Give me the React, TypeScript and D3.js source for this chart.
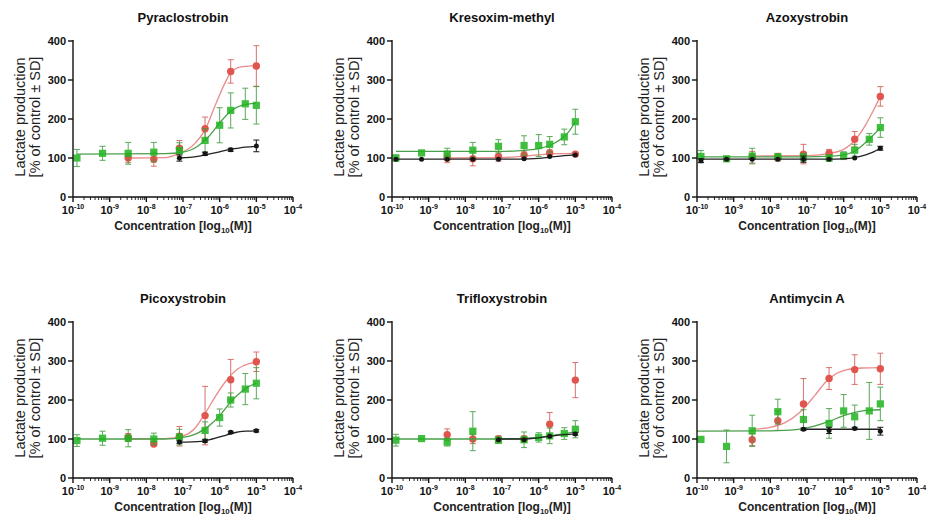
import React, { useEffect } from "react";
import * as d3 from "d3";

// dilution series (M)
const doses = [1.28e-10, 6.4e-10, 3.2e-9, 1.6e-8, 8e-8, 4e-7, 1e-6, 2e-6, 5e-6, 1e-5];
const decades = [-10, -9, -8, -7, -6, -5, -4];
const yTicks = [0, 100, 200, 300, 400];

type N = number | null;
type Knot = [number, number]; // [log10 dose, % of control]

// Pyraclostrobin
const pyraGreen: N[] = [100, 112, 112, 115, 119, 145, 184, 222, 239, 235];
const pyraGreenSd: N[] = [22, 18, 28, 25, 20, 30, 45, 45, 40, 48];
const pyraGreenFit: Knot[] = [[-9.89, 110], [-7.5, 111], [-7, 115], [-6.6, 130], [-6.3, 155], [-6, 190], [-5.7, 220], [-5.4, 235], [-5, 240]];
const pyraRed: N[] = [null, null, 100, 97, 125, 175, null, 322, null, 336];
const pyraRedSd: N[] = [null, null, 12, 18, 20, 30, null, 30, null, 52];
const pyraRedFit: Knot[] = [[-8.5, 100], [-7.5, 101], [-7.1, 112], [-6.7, 135], [-6.4, 172], [-6.1, 240], [-5.7, 318], [-5.45, 333], [-5, 337]];
const pyraBlack: N[] = [null, null, null, null, 100, 111, null, 121, null, 131];
const pyraBlackSd: N[] = [null, null, null, null, 8, 4, null, 4, null, 15];
const pyraBlackFit: Knot[] = [[-7.1, 100], [-6.6, 104], [-6.3, 110], [-6, 116], [-5.7, 122], [-5.3, 128], [-5, 130]];

// Kresoxim-methyl
const kresGreen: N[] = [100, 113, 110, 120, 130, 132, 132, 135, 154, 193];
const kresGreenSd: N[] = [8, 6, 15, 20, 17, 25, 28, 20, 20, 32];
const kresGreenFit: Knot[] = [[-9.89, 117], [-7, 117], [-6.5, 119], [-6, 124], [-5.7, 132], [-5.4, 148], [-5.2, 165], [-5, 193]];
const kresRed: N[] = [null, null, 100, 98, 104, 108, null, 113, null, 110];
const kresRedSd: N[] = [null, null, 12, 18, 12, 10, null, 8, null, 5];
const kresRedFit: Knot[] = [[-8.5, 100], [-7, 101], [-6.5, 104], [-6, 108], [-5.5, 111], [-5, 112]];
const kresBlack: N[] = [97, 97, 97, 97, 97, 98, null, 104, null, 108];
const kresBlackSd: N[] = [2, 2, 2, 2, 2, 2, null, 2, null, 2];
const kresBlackFit: Knot[] = [[-9.89, 97], [-6.5, 97], [-6, 99], [-5.7, 102], [-5.3, 106], [-5, 108]];

// Azoxystrobin
const azoGreen: N[] = [104, 98, 105, 103, 102, 100, 106, 120, 148, 178];
const azoGreenSd: N[] = [15, 3, 20, 8, 10, 8, 10, 15, 15, 25];
const azoGreenFit: Knot[] = [[-9.89, 103], [-7, 103], [-6.5, 104], [-6, 108], [-5.7, 118], [-5.4, 140], [-5.2, 158], [-5, 178]];
const azoRed: N[] = [null, null, 102, 102, 110, 112, null, 148, null, 258];
const azoRedSd: N[] = [null, null, 15, 10, 25, 10, null, 20, null, 25];
const azoRedFit: Knot[] = [[-8.5, 105], [-7, 106], [-6.5, 110], [-6, 122], [-5.7, 145], [-5.4, 185], [-5.2, 220], [-5, 258]];
const azoBlack: N[] = [93, 97, 97, 97, 97, 97, null, 100, null, 125];
const azoBlackSd: N[] = [5, 2, 2, 2, 8, 2, null, 2, null, 5];
const azoBlackFit: Knot[] = [[-9.89, 97], [-6.5, 97], [-6, 98], [-5.7, 101], [-5.4, 108], [-5.2, 115], [-5, 125]];

// Picoxystrobin
const picoGreen: N[] = [96, 102, 102, 100, 105, 122, 155, 200, 228, 243];
const picoGreenSd: N[] = [15, 18, 22, 15, 20, 22, 22, 18, 40, 40];
const picoGreenFit: Knot[] = [[-9.89, 100], [-7.5, 100], [-7, 104], [-6.6, 115], [-6.3, 133], [-6, 160], [-5.7, 195], [-5.4, 222], [-5.2, 235], [-5, 243]];
const picoRed: N[] = [null, null, 104, 87, 107, 160, null, 252, null, 298];
const picoRedSd: N[] = [null, null, 10, 5, 25, 75, null, 52, null, 25];
const picoRedFit: Knot[] = [[-8.5, 100], [-7.5, 101], [-7, 108], [-6.7, 125], [-6.4, 165], [-6.1, 212], [-5.8, 252], [-5.5, 280], [-5.2, 293], [-5, 297]];
const picoBlack: N[] = [null, null, null, null, 92, 95, null, 117, null, 121];
const picoBlackSd: N[] = [null, null, null, null, 3, 3, null, 3, null, 3];
const picoBlackFit: Knot[] = [[-7.1, 92], [-6.5, 94], [-6.2, 100], [-5.9, 108], [-5.6, 116], [-5.3, 120], [-5, 121]];

// Trifloxystrobin
const trifGreen: N[] = [97, 101, 92, 120, 97, 98, 104, 108, 114, 125];
const trifGreenSd: N[] = [15, 3, 10, 50, 8, 20, 12, 20, 15, 22];
const trifGreenFit: Knot[] = [[-9.89, 100], [-7, 100], [-6.5, 101], [-6, 104], [-5.7, 108], [-5.3, 114], [-5, 118]];
const trifRed: N[] = [null, null, 111, 100, 100, 100, null, 138, null, 251];
const trifRedSd: N[] = [null, null, 15, 12, 8, 8, null, 30, null, 45];
const trifBlack: N[] = [null, null, null, null, 98, 98, null, 107, null, 113];
const trifBlackSd: N[] = [null, null, null, null, 2, 2, null, 2, null, 3];
const trifBlackFit: Knot[] = [[-7.1, 100], [-6.5, 100], [-6, 103], [-5.7, 107], [-5.3, 111], [-5, 113]];

// Antimycin A
const antiGreen: N[] = [99, 81, 121, 170, 150, 140, 172, 157, 172, 190];
const antiGreenSd: N[] = [5, 42, 40, 32, 25, 38, 42, 30, 73, 43];
const antiGreenFit: Knot[] = [[-10, 120], [-8, 121], [-7.3, 124], [-6.8, 133], [-6.4, 145], [-6, 160], [-5.6, 170], [-5.3, 174], [-5, 175]];
const antiRed: N[] = [null, null, 98, 147, 190, 255, null, 278, null, 280];
const antiRedSd: N[] = [null, null, 15, 25, 65, 28, null, 38, null, 40];
const antiRedFit: Knot[] = [[-8.5, 125], [-8, 130], [-7.6, 142], [-7.2, 168], [-6.8, 210], [-6.5, 245], [-6.2, 268], [-5.9, 278], [-5.5, 282], [-5, 283]];
const antiBlack: N[] = [null, null, null, null, 125, 122, null, 127, null, 120];
const antiBlackSd: N[] = [null, null, null, null, 3, 8, null, 3, null, 10];
const antiBlackFit: Knot[] = [[-7.1, 125], [-5, 125]];

const FONT = "'Liberation Sans', Arial, sans-serif";
const PLOT_W = 220;
const PLOT_H = 156;

const look = {
  red: { marker: "#e0564e", line: "#ea8a8a", err: "#d8726a", shape: "circle", r: 3.7, opacity: 1 },
  green: { marker: "#1fb31f", line: "#4a9f4a", err: "#3f9a3f", shape: "square", r: 3.6, opacity: 0.85 },
  black: { marker: "#151515", line: "#222222", err: "#151515", shape: "circle", r: 2.5, opacity: 1 },
};

type Series = { kind: keyof typeof look; values: N[]; sd: N[]; fit?: Knot[] };

const panels: { title: string; x0: number; y0: number; series: Series[] }[] = [
  { title: "Pyraclostrobin", x0: 73, y0: 41, series: [
    { kind: "red", values: pyraRed, sd: pyraRedSd, fit: pyraRedFit },
    { kind: "green", values: pyraGreen, sd: pyraGreenSd, fit: pyraGreenFit },
    { kind: "black", values: pyraBlack, sd: pyraBlackSd, fit: pyraBlackFit },
  ] },
  { title: "Kresoxim-methyl", x0: 392, y0: 41, series: [
    { kind: "red", values: kresRed, sd: kresRedSd, fit: kresRedFit },
    { kind: "green", values: kresGreen, sd: kresGreenSd, fit: kresGreenFit },
    { kind: "black", values: kresBlack, sd: kresBlackSd, fit: kresBlackFit },
  ] },
  { title: "Azoxystrobin", x0: 697, y0: 41, series: [
    { kind: "red", values: azoRed, sd: azoRedSd, fit: azoRedFit },
    { kind: "green", values: azoGreen, sd: azoGreenSd, fit: azoGreenFit },
    { kind: "black", values: azoBlack, sd: azoBlackSd, fit: azoBlackFit },
  ] },
  { title: "Picoxystrobin", x0: 73, y0: 322, series: [
    { kind: "red", values: picoRed, sd: picoRedSd, fit: picoRedFit },
    { kind: "green", values: picoGreen, sd: picoGreenSd, fit: picoGreenFit },
    { kind: "black", values: picoBlack, sd: picoBlackSd, fit: picoBlackFit },
  ] },
  { title: "Trifloxystrobin", x0: 392, y0: 322, series: [
    { kind: "red", values: trifRed, sd: trifRedSd },
    { kind: "green", values: trifGreen, sd: trifGreenSd, fit: trifGreenFit },
    { kind: "black", values: trifBlack, sd: trifBlackSd, fit: trifBlackFit },
  ] },
  { title: "Antimycin A", x0: 697, y0: 322, series: [
    { kind: "red", values: antiRed, sd: antiRedSd, fit: antiRedFit },
    { kind: "green", values: antiGreen, sd: antiGreenSd, fit: antiGreenFit },
    { kind: "black", values: antiBlack, sd: antiBlackSd, fit: antiBlackFit },
  ] },
];

function Panel({ title, x0, y0, series }: { title: string; x0: number; y0: number; series: Series[] }) {
  const x = d3.scaleLog().domain([1e-10, 1e-4]).range([x0, x0 + PLOT_W]);
  const y = d3.scaleLinear().domain([0, 400]).range([y0 + PLOT_H, y0]);
  const line = d3.line<Knot>().x(d => x(Math.pow(10, d[0]))).y(d => y(d[1])).curve(d3.curveMonotoneX);
  const minor: number[] = [];
  decades.slice(0, -1).forEach(d => { for (let k = 2; k < 10; k++) minor.push(k * Math.pow(10, d)); });
  const yBase = y0 + PLOT_H;
  const mid = (x0 + x0 + PLOT_W) / 2;
  const labelY = y0 + PLOT_H / 2 - 2;

  return (
    <g fontFamily={FONT}>
      <text x={mid} y={y0 - 19} textAnchor="middle" fontSize={13} fontWeight="bold" fill="#111">{title}</text>
      <text transform={`translate(${x0 - 48},${labelY}) rotate(-90)`} textAnchor="middle" fontSize={14.5} fill="#222">Lactate production</text>
      <text transform={`translate(${x0 - 33},${labelY}) rotate(-90)`} textAnchor="middle" fontSize={14.5} fill="#222">[% of control ± SD]</text>

      {series.map((s, i) => {
        const st = look[s.kind];
        return (
          <g key={i}>
            {s.fit && <path d={line(s.fit) || ""} fill="none" stroke={st.line} strokeWidth={1.3} />}
            {s.values.map((v, j) => {
              if (v == null) return null;
              const cx = x(doses[j]);
              const sd = s.sd[j] || 0;
              const hi = y(v + sd), lo = y(v - sd);
              return (
                <g key={j} opacity={st.opacity}>
                  {sd > 2 && (
                    <g stroke={st.err} strokeWidth={1}>
                      <line x1={cx} x2={cx} y1={hi} y2={lo} />
                      <line x1={cx - 3} x2={cx + 3} y1={hi} y2={hi} />
                      <line x1={cx - 3} x2={cx + 3} y1={lo} y2={lo} />
                    </g>
                  )}
                  {st.shape === "square"
                    ? <rect x={cx - st.r} y={y(v) - st.r} width={st.r * 2} height={st.r * 2} fill={st.marker} />
                    : <circle cx={cx} cy={y(v)} r={st.r} fill={st.marker} />}
                </g>
              );
            })}
          </g>
        );
      })}

      {/* axes */}
      <g stroke="#111" strokeWidth={1.4}>
        <line x1={x0} x2={x0} y1={y0 - 1} y2={yBase} />
        <line x1={x0} x2={x0 + PLOT_W} y1={yBase} y2={yBase} />
        {yTicks.map(t => <line key={t} x1={x0 - 5} x2={x0} y1={y(t)} y2={y(t)} />)}
        {decades.map(d => <line key={d} x1={x(Math.pow(10, d))} x2={x(Math.pow(10, d))} y1={yBase} y2={yBase + 5} />)}
      </g>
      <g stroke="#111" strokeWidth={0.9}>
        {minor.map((m, i) => <line key={i} x1={x(m)} x2={x(m)} y1={yBase} y2={yBase + 3} />)}
      </g>
      {yTicks.map(t => (
        <text key={t} x={x0 - 7} y={y(t)} dy="0.35em" textAnchor="end" fontSize={11} fontWeight="bold" fill="#111">{t}</text>
      ))}
      {decades.map(d => (
        <text key={d} x={x(Math.pow(10, d))} y={yBase + 17} textAnchor="middle" fontSize={11} fontWeight="bold" fill="#111">
          10<tspan fontSize={7} dy={-5}>{d}</tspan>
        </text>
      ))}
      <text x={mid} y={yBase + 33} textAnchor="middle" fontSize={12} fontWeight="bold" fill="#222">
        Concentration [log<tspan fontSize={8} dy={3}>10</tspan><tspan dy={-3}>(M)]</tspan>
      </text>
    </g>
  );
}

export default function App() {
  useEffect(() => { document.body.style.margin = "0"; }, []);
  return (
    <svg width={929} height={515} style={{ display: "block", background: "#fff" }}>
      {panels.map(p => <Panel key={p.title} {...p} />)}
    </svg>
  );
}
